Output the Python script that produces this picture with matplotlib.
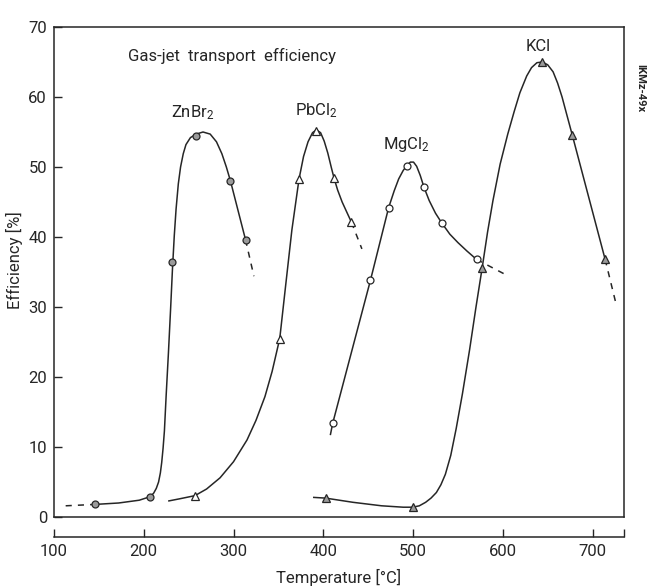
import matplotlib
matplotlib.use("Agg")
import matplotlib.pyplot as plt

plt.rcParams['font.family'] = ['Roboto', 'DejaVu Sans']
plt.rcParams['mathtext.fontset'] = 'custom'
plt.rcParams['mathtext.rm'] = 'Roboto'
plt.rcParams['mathtext.it'] = 'Roboto'

# Measured points: temperature (°C) and transport efficiency (%)
znbr2_t = [146, 207, 232, 258.5, 296.5, 313.5]
znbr2_e = [1.8, 2.9, 36.5, 54.4, 48.0, 39.6]
pbcl2_t = [257, 351.5, 373, 392.3, 412, 431.4]
pbcl2_e = [3.05, 25.5, 48.3, 55.1, 48.4, 42.1]
mgcl2_t = [410.5, 452.5, 472.8, 493, 512.2, 532, 570.7]
mgcl2_e = [13.4, 33.8, 44.2, 50.2, 47.1, 42.0, 36.8]
kcl_t = [402.5, 499.6, 577, 644, 677.3, 714]
kcl_e = [2.7, 1.4, 35.6, 65.0, 54.6, 36.8]

# Hand-drawn guide curves through the measurements
znbr2_curve_t = [146, 172, 195, 207, 211, 214, 216.5, 218.5, 220, 221.5, 223,
                 225, 227.5, 230, 232, 234, 236, 238.5, 241, 244, 247, 252,
                 258.5, 266, 274, 281, 287, 292, 296.6, 313.4]
znbr2_curve_e = [1.8, 2.0, 2.4, 2.9, 3.4, 4.1, 5.0, 6.3, 7.8, 9.8, 12.3,
                 17.5, 23.5, 30.0, 35.5, 40.2, 44.0, 47.6, 50.0, 51.9, 53.2, 54.2,
                 54.7, 55.0, 54.7, 53.6, 51.9, 50.0, 48.0, 39.6]
pbcl2_curve_t = [228, 240, 257, 270, 285, 300, 315, 325, 335, 343, 351.5, 358,
                 365, 373, 378, 383, 388, 392.3, 397, 401, 405, 409, 412,
                 416, 421, 426, 431.4]
pbcl2_curve_e = [2.3, 2.6, 3.05, 4.0, 5.6, 7.9, 11.0, 13.8, 17.2, 20.8, 25.5,
                 33.0, 41.0, 48.3, 51.5, 53.6, 54.9, 55.3, 54.9, 53.7, 52.0,
                 49.9, 48.4, 46.7, 45.0, 43.6, 42.1]
mgcl2_curve_t = [408, 410.5, 452.5, 472.8, 479, 484, 489, 493, 497, 500.5, 504,
                 508, 512.2, 518, 525, 532, 541, 550, 560, 570.7]
mgcl2_curve_e = [11.8, 13.4, 33.8, 44.2, 46.6, 48.3, 49.5, 50.2, 50.7, 50.7,
                 50.1, 48.8, 47.1, 45.2, 43.4, 42.0, 40.4, 39.2, 38.0, 36.8]
kcl_curve_t = [389.4, 402.5, 433, 465, 489, 499.6, 507, 514, 520, 526, 531,
               536, 542, 548, 555, 563, 570, 577, 583, 589, 597, 605.5, 612.6,
               619, 626.6, 632, 638, 644, 650, 656, 661, 666, 671, 677.3, 714]
kcl_curve_e = [2.8, 2.7, 2.1, 1.6, 1.4, 1.4, 1.6, 2.1, 2.7, 3.5, 4.6,
               6.1, 8.8, 12.6, 17.6, 23.9, 29.9, 35.6, 40.7, 45.2, 50.4, 54.7, 57.9,
               60.6, 63.0, 64.2, 64.9, 65.0, 64.6, 63.6, 62.0, 60.0, 57.6, 54.6,
               36.8]

# Dashed extrapolations
znbr2_left_t, znbr2_left_e = [113, 146], [1.6, 1.8]
znbr2_tail_t, znbr2_tail_e = [313.4, 322.7], [39.6, 34.4]
pbcl2_tail_t, pbcl2_tail_e = [431.4, 443], [42.1, 38.3]
mgcl2_tail_t, mgcl2_tail_e = [570.7, 602], [36.8, 34.7]
kcl_tail_t, kcl_tail_e = [714, 726.6], [36.8, 30.2]

x_ticks = [100, 200, 300, 400, 500, 600, 700]
y_ticks = [0, 10, 20, 30, 40, 50, 60, 70]

ink = '#262626'
fig = plt.figure(figsize=(6.48, 5.88), dpi=100)
ax = fig.add_axes([54 / 648, 71 / 588, 570 / 648, 490 / 588])
ax.set_xlim(100, 735)
ax.set_ylim(0, 70)

line_kw = dict(color=ink, lw=1.1, zorder=2, solid_joinstyle='round')
dash_kw = dict(color=ink, lw=1.1, ls=(0, (4, 4)), zorder=2)
for ct, ce in [(znbr2_curve_t, znbr2_curve_e), (pbcl2_curve_t, pbcl2_curve_e),
               (mgcl2_curve_t, mgcl2_curve_e), (kcl_curve_t, kcl_curve_e)]:
    ax.plot(ct, ce, **line_kw)
for dt, de in [(znbr2_left_t, znbr2_left_e), (znbr2_tail_t, znbr2_tail_e),
               (pbcl2_tail_t, pbcl2_tail_e), (mgcl2_tail_t, mgcl2_tail_e),
               (kcl_tail_t, kcl_tail_e)]:
    ax.plot(dt, de, **dash_kw)

ax.plot(znbr2_t, znbr2_e, 'o', ms=5, mfc='#9a9a9a', mec=ink, mew=0.9, zorder=3)
ax.plot(pbcl2_t, pbcl2_e, '^', ms=6, mfc='white', mec=ink, mew=0.9, zorder=3)
ax.plot(mgcl2_t, mgcl2_e, 'o', ms=5, mfc='white', mec=ink, mew=0.9, zorder=3)
ax.plot(kcl_t, kcl_e, '^', ms=6, mfc='#9a9a9a', mec=ink, mew=0.9, zorder=3)

# Frame: closed box plus a detached temperature axis below it
for s in ['top', 'left', 'right', 'bottom']:
    ax.spines[s].set_color(ink)
    ax.spines[s].set_linewidth(1.1)
ax.spines['bottom'].set_position(('outward', 14.4))
ax.axhline(0, color=ink, lw=1.1, clip_on=False, zorder=4)

ax.set_xticks(x_ticks)
ax.set_xticks([735], minor=True)
ax.set_yticks(y_ticks)
ax.tick_params(axis='x', which='both', direction='in', length=6, width=1.0,
               color=ink, labelsize=12, labelcolor=ink, pad=5)
ax.tick_params(axis='y', direction='in', length=6, width=1.0, color=ink,
               labelsize=12, labelcolor=ink, pad=5)

ax.set_xlabel('Temperature [°C]', fontsize=12, color=ink, va='center')
ax.xaxis.set_label_coords(285 / 570, (517 - 577) / 490)
ax.set_ylabel('Efficiency [%]', fontsize=12, color=ink, va='center')
ax.yaxis.set_label_coords((14 - 54) / 570, (517 - 260) / 490)

ax.text(298, 65.8, 'Gas-jet  transport  efficiency', fontsize=12, color=ink,
        ha='center', va='center')
ax.text(254, 57.7, r'ZnBr$_2$', fontsize=12, color=ink, ha='center', va='center')
ax.text(392, 58.1, r'PbCl$_2$', fontsize=12, color=ink, ha='center', va='center')
ax.text(493, 53.2, r'MgCl$_2$', fontsize=12, color=ink, ha='center', va='center')
ax.text(639, 67.2, 'KCl', fontsize=12, color=ink, ha='center', va='center')
fig.text(640 / 648, 1 - 88 / 588, 'IKMz-49x', fontsize=8, color=ink,
         fontweight='bold', rotation=-90, ha='center', va='center')

fig.savefig('out.png', dpi=100)
